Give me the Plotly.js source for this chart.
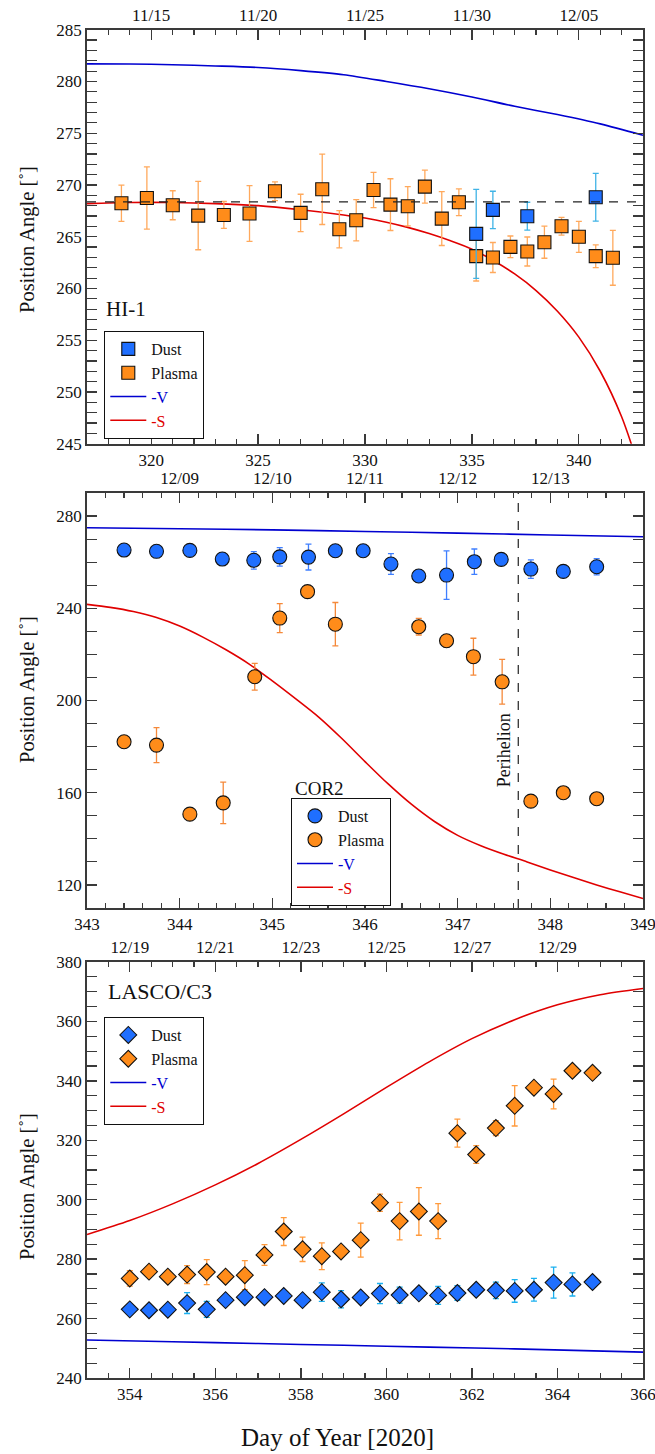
<!DOCTYPE html>
<html><head><meta charset="utf-8">
<script src="https://cdn.plot.ly/plotly-3.0.1.min.js"></script>
<style>html,body{margin:0;padding:0;background:#fff}#chart{width:655px;height:1454px}</style>
</head><body><div id="chart"></div>
<script>
// ---------- Panel 1 : HI-1 ----------
const hi1PlasmaDay = [318.61,319.80,321.01,322.20,323.40,324.60,325.79,326.99,328.00,328.80,329.59,330.40,331.19,332.00,332.80,333.59,334.39,335.20,335.98,336.80,337.59,338.39,339.19,340.00,340.79,341.59];
const hi1PlasmaPA  = [268.23,268.74,268.04,267.04,267.10,267.24,269.39,267.30,269.58,265.72,266.59,269.51,268.10,267.94,269.84,266.75,268.33,263.12,262.99,264.02,263.57,264.47,266.01,264.99,263.12,262.96];
const hi1PlasmaErr = [1.75,3.0,1.4,3.3,1.3,2.7,0.9,1.8,3.4,1.8,2.0,1.7,2.5,1.9,1.6,2.6,1.3,2.4,1.45,1.05,1.4,1.55,0.85,1.5,1.1,2.65];
const hi1DustDay = [335.20,335.98,337.59,340.79];
const hi1DustPA  = [265.27,267.59,266.98,268.81];
const hi1DustErr = [4.3,1.8,1.35,2.3];
const hi1VDay = [317,319,321,323,325,327,329,331,333,335,337,339,341,343];
const hi1VPA  = [281.70,281.68,281.62,281.50,281.35,281.05,280.65,280.00,279.30,278.50,277.60,276.80,275.90,274.80];
const hi1SDay = [317,319,321,323,325,327,329,330,331,332,333,334,335,336,337,338,339,340,341,342,343];
const hi1SPA  = [268.2,268.3,268.3,268.2,268.0,267.6,267.1,266.8,266.4,265.9,265.3,264.6,263.8,262.7,261.4,259.8,257.8,255.3,252.0,247.6,241.5];
const hi1RefPA = 268.36;
const hi1TopVals = [320,325,330,335,340];
const hi1TopText = ['11/15','11/20','11/25','11/30','12/05'];

// ---------- Panel 2 : COR2 ----------
const cor2DustDay = [343.40,343.75,344.11,344.46,344.80,345.08,345.39,345.68,345.98,346.28,346.58,346.88,347.18,347.47,347.79,348.14,348.50];
const cor2DustPA  = [265.25,264.7,265.1,261.35,260.8,262.3,262.2,264.95,264.95,259.2,254.0,254.4,260.2,261.2,257.0,256.0,258.0];
const cor2DustErr = [0,0,0,0,3.8,4.0,5.6,0,0,4.5,0,10.5,5.5,0,4.0,0,3.5];
const cor2PlasmaDay = [343.40,343.75,344.11,344.47,344.81,345.08,345.38,345.68,346.58,346.88,347.17,347.48,347.79,348.14,348.50];
const cor2PlasmaPA  = [182.1,180.65,150.7,155.6,210.3,235.75,247.2,233.1,232.0,225.9,219.0,208.1,156.35,160.0,157.4];
const cor2PlasmaErr = [0,7.6,0,9.0,5.8,6.3,0,9.4,3.6,2.7,8.0,9.7,0,0,0];
const cor2VDay = [343,344,345,346,347,348,349];
const cor2VPA  = [274.9,274.5,274.0,273.3,272.6,271.8,271.0];
const cor2SDay = [343.0,343.25,343.5,343.75,344.0,344.25,344.5,344.75,345.0,345.25,345.5,345.75,346.0,346.25,346.5,346.75,347.0,347.25,347.5,347.75,348.0,348.25,348.5,348.75,349.0];
const cor2SPA  = [241.7,240.4,238.6,236.0,232.3,227.5,222.0,215.8,208.5,200.8,192.8,183.5,173.5,163.8,155.0,147.5,141.5,137.0,133.3,130.0,126.5,123.2,120.0,117.0,114.1];
const perihelionDay = 347.654;
const cor2TopVals = [344,345,346,347,348];
const cor2TopText = ['12/09','12/10','12/11','12/12','12/13'];

// ---------- Panel 3 : LASCO/C3 ----------
const c3Day = [354.00,354.45,354.89,355.34,355.80,356.24,356.69,357.15,357.60,358.04,358.49,358.94,359.40,359.85,360.31,360.76,361.21,361.66,362.10,362.56,363.00,363.45,363.91,364.35,364.82];
const c3DustPA  = [263.1,262.8,263.0,265.2,263.1,266.2,267.2,267.2,267.6,266.2,268.9,266.5,267.1,268.4,267.9,268.5,267.8,268.6,269.7,269.5,269.3,269.7,272.1,271.5,272.3];
const c3DustErr = [0,0,0,3.5,2.7,0,0,0,0,0,3.1,2.9,0,3.4,2.7,0,3.0,2.5,0,2.8,3.8,3.8,5.2,3.9,0];
const c3PlasmaPA  = [273.5,275.8,274.1,274.8,275.65,274.1,274.6,281.4,289.3,283.3,281.0,282.6,286.4,299.0,292.8,296.05,292.8,322.4,315.2,324.1,331.6,337.7,335.6,343.4,342.7];
const c3PlasmaErr = [2.6,1.5,1.5,3.0,4.2,1.5,4.9,3.5,4.7,4.1,4.5,1.5,5.7,2.9,6.3,8.0,5.9,4.7,3.0,2.5,6.8,1.5,5.0,0,0];
const c3VDay = [353,355,357,359,361,363,366];
const c3VPA  = [252.8,252.2,251.6,251.0,250.4,249.8,248.7];
const c3SDay = [353,354,355,356,357,358,359,360,361,362,363,364,365,366];
const c3SPA  = [288.3,293.0,298.6,305.0,312.2,320.3,328.9,337.8,346.4,354.2,360.6,365.6,369.0,371.1];
const c3TopVals = [354,356,358,360,362,364];
const c3TopText = ['12/19','12/21','12/23','12/25','12/27','12/29'];

// ---------- styles ----------
const FONT = "'Liberation Serif', 'Times New Roman', serif";
const DUST = '#1f6fff', PLASMA = '#ff8c1a';
const VCOL = '#0000d0', SCOL = '#e00000';
const AX = '#3a3a3a';

function marks(x, y, err, xa, ya, name, symbol, size, color, ecol, legend, rank) {
  return {type:'scatter', mode:'markers', x:x, y:y, xaxis:xa, yaxis:ya, name:name,
    legend:legend, legendrank:rank, hoverinfo:'skip',
    marker:{symbol:symbol, size:size, color:color, line:{color:'#111', width:1.1}},
    error_y:{type:'data', array:err, visible:true, color:ecol, thickness:1.3, width:3}};
}
function curve(x, y, xa, ya, name, color, legend, rank) {
  return {type:'scatter', mode:'lines', x:x, y:y, xaxis:xa, yaxis:ya, name:name,
    legend:legend, legendrank:rank, hoverinfo:'skip',
    line:{color:color, width:1.6, shape:'spline', smoothing:0.8}};
}
const vName = '<span style="color:#0000d0">-V</span>';
const sName = '<span style="color:#e00000">-S</span>';

const data = [
  curve(hi1VDay, hi1VPA, 'x4', 'y', vName, VCOL, 'legend', 3),
  curve(hi1SDay, hi1SPA, 'x', 'y', sName, SCOL, 'legend', 4),
  marks(hi1PlasmaDay, hi1PlasmaPA, hi1PlasmaErr, 'x', 'y', 'Plasma', 'square', 13, PLASMA, '#ffa95c', 'legend', 2),
  marks(hi1DustDay, hi1DustPA, hi1DustErr, 'x', 'y', 'Dust', 'square', 13, DUST, '#3fb3e6', 'legend', 1),

  curve(cor2VDay, cor2VPA, 'x5', 'y2', vName, VCOL, 'legend2', 3),
  curve(cor2SDay, cor2SPA, 'x2', 'y2', sName, SCOL, 'legend2', 4),
  marks(cor2PlasmaDay, cor2PlasmaPA, cor2PlasmaErr, 'x2', 'y2', 'Plasma', 'circle', 14, PLASMA, '#f5893a', 'legend2', 2),
  marks(cor2DustDay, cor2DustPA, cor2DustErr, 'x2', 'y2', 'Dust', 'circle', 14, DUST, '#3f7fff', 'legend2', 1),

  curve(c3VDay, c3VPA, 'x6', 'y3', vName, VCOL, 'legend3', 3),
  curve(c3SDay, c3SPA, 'x3', 'y3', sName, SCOL, 'legend3', 4),
  marks(c3Day, c3PlasmaPA, c3PlasmaErr, 'x3', 'y3', 'Plasma', 'diamond', 13, PLASMA, '#ff9a3c', 'legend3', 2),
  marks(c3Day, c3DustPA, c3DustErr, 'x3', 'y3', 'Dust', 'diamond', 13, DUST, '#1ab0f0', 'legend3', 1)
];

const tickFont = {family:FONT, size:17, color:'#111'};
function xax(range, dtick, tick0, minor, anchor) {
  return {range:range, anchor:anchor, tickmode:'linear', dtick:dtick, tick0:tick0,
    ticks:'inside', ticklen:10, tickwidth:1.3, tickcolor:AX, showline:true, linecolor:AX, linewidth:1.8,
    mirror:false, showgrid:false, zeroline:false, tickfont:tickFont, ticklabeloverflow:'allow',
    minor:{dtick:minor, tick0:0, ticks:'inside', ticklen:5, tickwidth:1.2, tickcolor:AX, showgrid:false}};
}
function topax(over, anchor, range, vals, text, minor) {
  return {overlaying:over, anchor:anchor, side:'top', range:range, tickmode:'array', tickvals:vals, ticktext:text,
    ticks:'inside', ticklen:10, tickwidth:1.3, tickcolor:AX, showline:true, linecolor:AX, linewidth:1.8,
    showgrid:false, zeroline:false, tickfont:tickFont, ticklabeloverflow:'allow',
    minor:{dtick:minor, tick0:0, ticks:'inside', ticklen:5, tickwidth:1.2, tickcolor:AX, showgrid:false}};
}
function yax(range, domain, vals, minor, anchor) {
  return {range:range, domain:domain, anchor:anchor, tickmode:'array', tickvals:vals,
    ticks:'inside', ticklen:10, tickwidth:1.3, tickcolor:AX, showline:true, linecolor:AX, linewidth:1.8,
    mirror:'allticks', showgrid:false, zeroline:false, tickfont:tickFont,
    minor:{dtick:minor, tick0:0, ticks:'inside', ticklen:5, tickwidth:1.2, tickcolor:AX, showgrid:false}};
}
const legendBase = {bgcolor:'#fff', bordercolor:'#111', borderwidth:1, xanchor:'left', yanchor:'top',
  font:{family:FONT, size:16, color:'#111'}, tracegroupgap:0, traceorder:'normal', itemwidth:36};

const yTitle = 'Position Angle [˚]';
const annFont = {family:FONT, size:20.5, color:'#111'};

const layout = {
  width:655, height:1454, paper_bgcolor:'#fff', plot_bgcolor:'#fff',
  margin:{l:87, r:12, t:0, b:0, pad:0},
  font:{family:FONT, color:'#111'},
  xaxis: xax([317,343], 5, 0, 1, 'y'),
  yaxis: yax([245,285], [0.69484,0.97957], [245,250,255,260,265,270,275,280,285], 1, 'x'),
  xaxis4: topax('x', 'y', [317,343], hi1TopVals, hi1TopText, 1),
  xaxis2: xax([343,349], 1, 0, 0.2, 'y2'),
  yaxis2: yax([110,290], [0.37552,0.66094], [120,160,200,240,280], 10, 'x2'),
  xaxis5: topax('x2', 'y2', [343,349], cor2TopVals, cor2TopText, 0.2),
  xaxis3: xax([353,366], 2, 0, 0.5, 'y3'),
  yaxis3: yax([240,380], [0.05227,0.33838], [240,260,280,300,320,340,360,380], 5, 'x3'),
  xaxis6: topax('x3', 'y3', [353,366], c3TopVals, c3TopText, 0.5),
  legend: Object.assign({}, legendBase, {x:0.0311, y:0.77235}),
  legend2: Object.assign({}, legendBase, {x:0.3669, y:0.45117}),
  legend3: Object.assign({}, legendBase, {x:0.0311, y:0.30055}),
  shapes: [
    {type:'line', xref:'x domain', yref:'y', x0:0, x1:1, y0:hi1RefPA, y1:hi1RefPA, line:{color:'#222', width:1.2, dash:'dash'}},
    {type:'line', xref:'x2', yref:'y2 domain', x0:perihelionDay, x1:perihelionDay, y0:0, y1:1, line:{color:'#222', width:1.2, dash:'dash'}}
  ],
  annotations: [
    {xref:'x', yref:'y', x:317.8, y:258.0, text:'HI-1', showarrow:false, xanchor:'left', yanchor:'middle', font:{family:FONT, size:21, color:'#111'}},
    {xref:'x2', yref:'y2', x:345.22, y:162.0, text:'COR2', showarrow:false, xanchor:'left', yanchor:'middle', font:{family:FONT, size:19, color:'#111'}},
    {xref:'x3', yref:'y3', x:353.44, y:370.0, text:'LASCO/C3', showarrow:false, xanchor:'left', yanchor:'middle', font:{family:FONT, size:22, color:'#111'}},
    {xref:'x2', yref:'y2', x:perihelionDay, y:178.5, text:'Perihelion', textangle:-90, showarrow:false, xanchor:'right', yanchor:'middle', xshift:-2, font:{family:FONT, size:18, color:'#111'}},
    {xref:'paper', yref:'paper', x:-0.1079, y:1-240/1454, text:yTitle, textangle:-90, showarrow:false, xanchor:'center', yanchor:'middle', font:annFont},
    {xref:'paper', yref:'paper', x:-0.1079, y:1-690/1454, text:yTitle, textangle:-90, showarrow:false, xanchor:'center', yanchor:'middle', font:annFont},
    {xref:'paper', yref:'paper', x:-0.1079, y:1-1187/1454, text:yTitle, textangle:-90, showarrow:false, xanchor:'center', yanchor:'middle', font:annFont},
    {xref:'paper', yref:'paper', x:0.4514, y:1-1437/1454, text:'Day of Year [2020]', showarrow:false, xanchor:'center', yanchor:'middle', font:{family:FONT, size:25, color:'#111'}}
  ]
};
Plotly.newPlot('chart', data, layout, {staticPlot:true, displayModeBar:false});
</script></body></html>
